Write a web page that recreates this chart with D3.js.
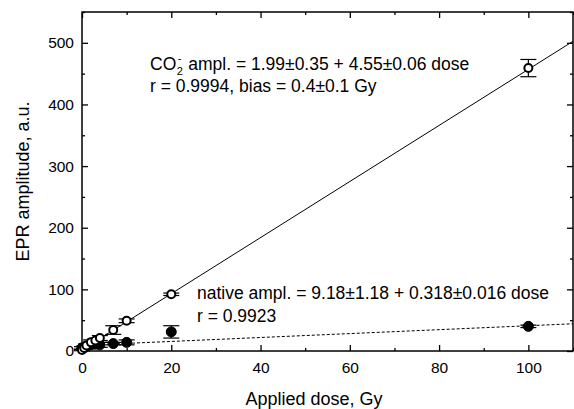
<!DOCTYPE html>
<html>
<head>
<meta charset="utf-8">
<script src="https://cdn.jsdelivr.net/npm/d3@7"></script>
<style>
  body { margin: 0; background: #fff; }
  svg text { font-family: "Liberation Sans", Arial, sans-serif; fill: #000; white-space: pre; }
</style>
</head>
<body>
<svg width="574" height="409"></svg>
<script>
const margin = { top: 12, right: 1, bottom: 58, left: 82 };
const svg = d3.select("svg");
const width = +svg.attr("width") - margin.left - margin.right;
const height = +svg.attr("height") - margin.top - margin.bottom;

// CO2- radical (open circles): dose, amplitude, error
const co2Dose = [0, 0.5, 1, 2, 3, 4, 7, 10, 20, 100];
const co2Amp = [1.5, 5, 9, 14, 17, 21, 34, 49, 92, 459];
const co2Err = [1, 2, 3, 4, 3, 4, 7, 3, 2, 14];

// native signal (filled circles)
const natDose = [0, 0.5, 1, 2, 3, 4, 7, 10, 20, 100];
const natAmp = [5, 6, 8, 10, 11, 10, 12, 14, 31, 40];
const natErr = [2, 2, 3, 4, 3, 4, 2, 4, 10, 2];

// fits: intercept, slope
const co2Fit = [1.99, 4.55];
const natFit = [9.18, 0.318];

const xTicks = [0, 20, 40, 60, 80, 100];
const yTicks = [0, 100, 200, 300, 400, 500];

var x = d3.scaleLinear().domain([0, 110]).range([0, width]);
var y = d3.scaleLinear().domain([0, 550]).range([height, 0]);

var g = svg.append("g")
    .attr("transform", "translate(" + margin.left + "," + margin.top + ")");

// axes with inward ticks, minor ticks every half step
function tickAxis(axis, scale, majors, step, pad) {
    var minors = d3.range(scale.domain()[0], scale.domain()[1] + 0.001, step / 2)
        .filter(function (v) { return majors.indexOf(v) < 0; });
    var major = axis(scale).tickValues(majors).tickSizeInner(-6).tickSizeOuter(0).tickPadding(pad);
    var minor = axis(scale).tickValues(minors).tickSizeInner(-3).tickSizeOuter(0).tickFormat("");
    return [major, minor];
}

var bx = tickAxis(d3.axisBottom, x, xTicks, 20, 11);
g.append("g").attr("transform", "translate(0," + height + ")").call(bx[0]);
g.append("g").attr("transform", "translate(0," + height + ")").call(bx[1]);
var tx = tickAxis(d3.axisTop, x, xTicks, 20, 3);
g.append("g").call(tx[0].tickFormat(""));
g.append("g").call(tx[1]);

var ly = tickAxis(d3.axisLeft, y, yTicks, 100, 8);
g.append("g").call(ly[0]);
g.append("g").call(ly[1]);
var ry = tickAxis(d3.axisRight, y, yTicks, 100, 3);
g.append("g").attr("transform", "translate(" + width + ",0)").call(ry[0].tickFormat(""));
g.append("g").attr("transform", "translate(" + width + ",0)").call(ry[1]);

g.selectAll(".domain").remove();
g.selectAll(".tick line").attr("stroke", "#000").attr("stroke-width", 1.3);
g.selectAll(".tick text").style("font-size", "15.5px").attr("fill", "#000");

g.append("rect")
    .attr("width", width).attr("height", height)
    .attr("fill", "none").attr("stroke", "#000").attr("stroke-width", 1.5);

// fit lines
function fitLine(fit, dash) {
    g.append("line")
        .attr("x1", x(0)).attr("y1", y(fit[0]))
        .attr("x2", x(110)).attr("y2", y(fit[0] + fit[1] * 110))
        .attr("stroke", "#000").attr("stroke-width", 1)
        .attr("stroke-dasharray", dash);
}
fitLine(co2Fit, null);
fitLine(natFit, "3,2");

// error bars + markers
function series(dose, amp, err, filled) {
    var data = dose.map(function (d, i) { return { d: d, a: amp[i], e: err[i] }; });
    var s = g.append("g");
    var eb = s.selectAll(".eb").data(data).enter().append("g");
    eb.append("line")
        .attr("x1", function (d) { return x(d.d); }).attr("x2", function (d) { return x(d.d); })
        .attr("y1", function (d) { return y(d.a - d.e); }).attr("y2", function (d) { return y(d.a + d.e); })
        .attr("stroke", "#000").attr("stroke-width", 1.2);
    [-1, 1].forEach(function (sgn) {
        eb.append("line")
            .attr("x1", function (d) { return x(d.d) - 8; }).attr("x2", function (d) { return x(d.d) + 8; })
            .attr("y1", function (d) { return y(d.a + sgn * d.e); }).attr("y2", function (d) { return y(d.a + sgn * d.e); })
            .attr("stroke", "#000").attr("stroke-width", 1.2);
    });
    s.selectAll("circle").data(data).enter().append("circle")
        .attr("cx", function (d) { return x(d.d); })
        .attr("cy", function (d) { return y(d.a); })
        .attr("r", filled ? 5 : 4)
        .attr("fill", filled ? "#000" : "#fff")
        .attr("stroke", "#000")
        .attr("stroke-width", filled ? 1 : 2);
}
series(natDose, natAmp, natErr, true);
series(co2Dose, co2Amp, co2Err, false);

// annotations
const fs = "17.5px";
var co = svg.append("text").attr("x", 150).attr("y", 70).style("font-size", fs).text("CO");
var coW = co.node().getComputedTextLength();
var sub = svg.append("text").attr("x", 150 + coW + 0.5).attr("y", 75).style("font-size", "11px").text("2");
var subW = sub.node().getComputedTextLength();
svg.append("text").attr("x", 150 + coW + 1.5).attr("y", 62).style("font-size", "11px").text("-");
svg.append("text").attr("x", 150 + coW + subW + 1).attr("y", 70).style("font-size", fs)
    .text(" ampl. = 1.99\u00b10.35 + 4.55\u00b10.06 dose");
svg.append("text").attr("x", 150).attr("y", 92).style("font-size", fs)
    .text("r = 0.9994, bias = 0.4\u00b10.1 Gy");

svg.append("text").attr("x", 197).attr("y", 299).style("font-size", fs)
    .text("native ampl. = 9.18\u00b11.18 + 0.318\u00b10.016 dose");
svg.append("text").attr("x", 197).attr("y", 322).style("font-size", fs)
    .text("r = 0.9923");

// axis titles
svg.append("text")
    .attr("x", 314).attr("y", 405)
    .attr("text-anchor", "middle").style("font-size", "18px")
    .text("Applied dose, Gy");
svg.append("text")
    .attr("transform", "translate(29," + (margin.top + height / 2) + ")rotate(-90)")
    .attr("text-anchor", "middle").style("font-size", "18px")
    .text("EPR amplitude, a.u.");
</script>
</body>
</html>
